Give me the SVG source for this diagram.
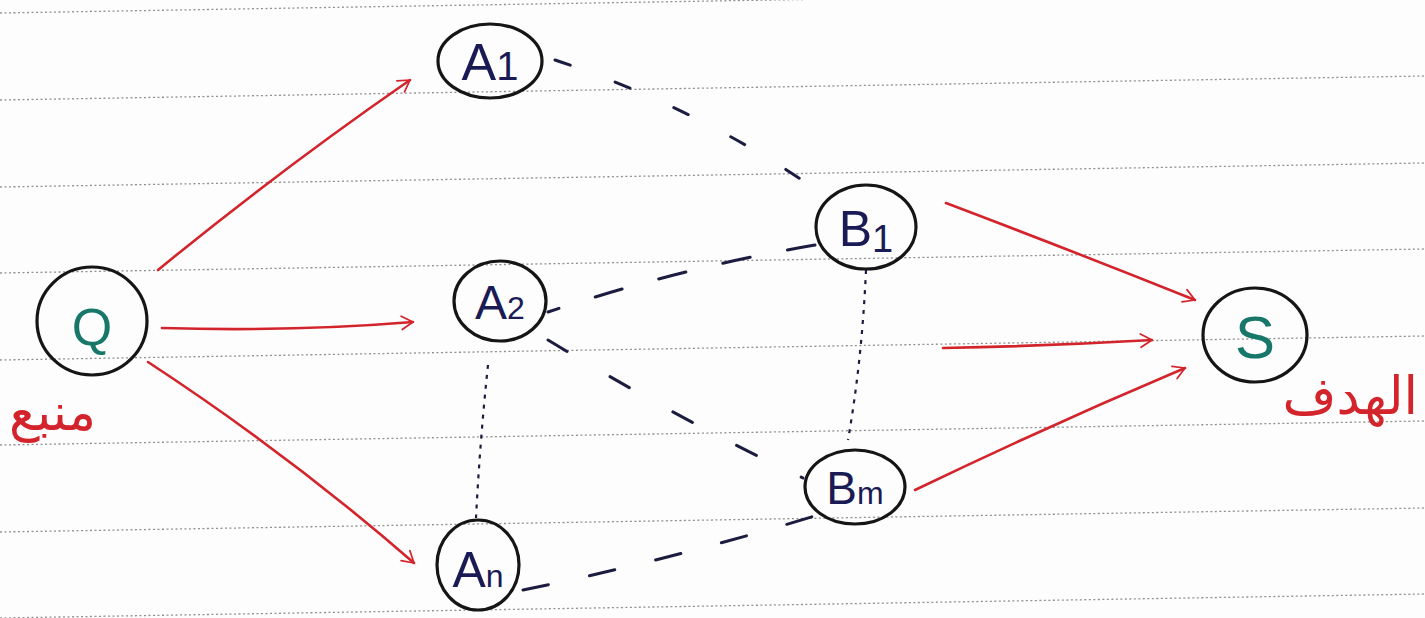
<svg xmlns="http://www.w3.org/2000/svg" width="1425" height="618" viewBox="0 0 1425 618">
<style>
.rule{stroke:#8f8f8f;stroke-width:1.3;stroke-dasharray:2 2.5;fill:none}
.node{fill:none;stroke:#151515;stroke-width:3.2}
.red{fill:none;stroke:#d3242c;stroke-width:2.6;stroke-linecap:round}
.dash{fill:none;stroke:#1c1c40;stroke-width:3;stroke-linecap:round;stroke-dasharray:22 40}
.dot{fill:none;stroke:#1c1c40;stroke-width:2.2;stroke-dasharray:4 6}
.lbl{font-family:"Liberation Sans","DejaVu Sans",sans-serif;fill:#1a1a55;text-anchor:middle}
.ar{font-family:"DejaVu Sans","Noto Sans",sans-serif;fill:#d3242c}
</style>
<defs>
<marker id="ah" viewBox="0 0 12 12" refX="11" refY="6" markerWidth="8" markerHeight="8" markerUnits="userSpaceOnUse" orient="auto" overflow="visible">
<path d="M-6,-4 L11,6 L-6,16" fill="none" stroke="#d3242c" stroke-width="2.6" stroke-linecap="round" stroke-linejoin="round"/>
</marker>
</defs>
<rect width="1425" height="618" fill="#fdfdfd"/>
<g id="ruled-lines">
<line class="rule" x1="0" y1="13" x2="1425" y2="-11"/>
<line class="rule" x1="0" y1="100" x2="1425" y2="76"/>
<line class="rule" x1="0" y1="187" x2="1425" y2="163"/>
<line class="rule" x1="0" y1="273" x2="1425" y2="249"/>
<line class="rule" x1="0" y1="360" x2="1425" y2="336"/>
<line class="rule" x1="0" y1="445" x2="1425" y2="421"/>
<line class="rule" x1="0" y1="532" x2="1425" y2="508"/>
<line class="rule" x1="0" y1="618" x2="1425" y2="594"/>
</g>
<g id="connectors">
<path class="red" d="M158,270 Q280,170 410,80" marker-end="url(#ah)"/>
<path class="red" d="M162,328 Q290,332 413,322" marker-end="url(#ah)"/>
<path class="red" d="M148,362 Q290,455 414,563" marker-end="url(#ah)"/>
<path class="red" d="M946,203 Q1070,250 1195,300" marker-end="url(#ah)"/>
<path class="red" d="M943,348 Q1050,346 1152,340" marker-end="url(#ah)"/>
<path class="red" d="M915,490 Q1050,425 1185,368" marker-end="url(#ah)"/>
<path class="dash" d="M555,60 Q690,105 805,182" style="stroke-dasharray:16 48"/>
<path class="dash" d="M815,245 Q680,268 548,312" style="stroke-dasharray:28 38"/>
<path class="dash" d="M548,340 Q680,420 803,478" style="stroke-dasharray:22 50"/>
<path class="dash" d="M523,590 Q670,560 818,515" style="stroke-dasharray:26 42"/>
<path class="dot" d="M488,365 Q480,440 476,518"/>
<path class="dot" d="M866,270 Q862,360 848,440"/>
</g>
<g id="node-Q">
<ellipse class="node" cx="92" cy="321" rx="55" ry="54"/>
<text class="lbl" x="92" y="345" font-size="52" style="fill:#17786a">Q</text>
</g>
<g id="node-A1">
<ellipse class="node" cx="490" cy="61" rx="52" ry="37"/>
<text class="lbl" x="490" y="80" font-size="52">A<tspan font-size="40">1</tspan></text>
</g>
<g id="node-A2">
<ellipse class="node" cx="500" cy="301" rx="46" ry="40"/>
<text class="lbl" x="500" y="319" font-size="48">A<tspan font-size="32">2</tspan></text>
</g>
<g id="node-An">
<ellipse class="node" cx="478" cy="565" rx="41" ry="45"/>
<text class="lbl" x="478" y="587" font-size="50">A<tspan font-size="32">n</tspan></text>
</g>
<g id="node-B1">
<ellipse class="node" cx="866" cy="227" rx="50" ry="42"/>
<text class="lbl" x="866" y="246" font-size="50">B<tspan font-size="38" dy="6">1</tspan></text>
</g>
<g id="node-Bm">
<ellipse class="node" cx="855" cy="487" rx="50" ry="37"/>
<text class="lbl" x="855" y="504" font-size="46">B<tspan font-size="32">m</tspan></text>
</g>
<g id="node-S">
<ellipse class="node" cx="1255" cy="335" rx="52" ry="47"/>
<text class="lbl" x="1255" y="358" font-size="60" style="fill:#17786a">S</text>
</g>
<g id="labels">
<text class="ar" x="96" y="430" font-size="52" text-anchor="end">منبع</text>
<text class="ar" x="1418" y="414" font-size="52" text-anchor="end">الهدف</text>
</g>
</svg>
